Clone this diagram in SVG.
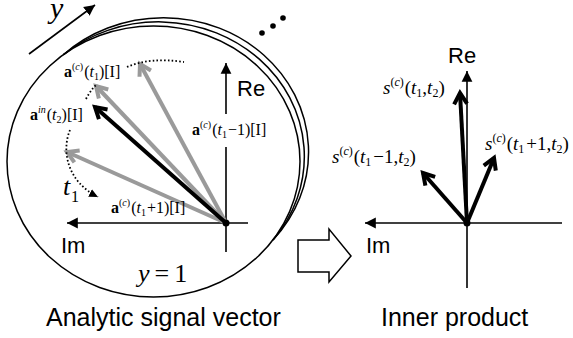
<svg xmlns="http://www.w3.org/2000/svg" width="573" height="338" viewBox="0 0 573 338">
<style>
.sans{font-family:"Liberation Sans",Arial,sans-serif;fill:#000}
.m{font-family:"Liberation Serif","Times New Roman",serif;fill:#000}
.it{font-style:italic}
.b{font-weight:bold}
.ln{fill:none;stroke:#000;stroke-width:1.5}
.ax{fill:none;stroke:#000;stroke-width:1.6}
.dot{fill:none;stroke:#000;stroke-width:1.8;stroke-dasharray:1.6 2.2}
.vg{fill:none;stroke:#9a9a9a;stroke-width:4}
.vb{fill:none;stroke:#000;stroke-width:4}
</style>
<defs>
<marker id="tri" markerUnits="userSpaceOnUse" markerWidth="12" markerHeight="12" viewBox="-9 -5 10 10" refX="0" refY="0" orient="auto"><path d="M-9,-4.5 L0,0 L-9,4.5 z" fill="#000"/></marker>
<marker id="triS" markerUnits="userSpaceOnUse" markerWidth="10" markerHeight="10" viewBox="-8 -4 9 8" refX="0" refY="0" orient="auto"><path d="M-8,-3.8 L0,0 L-8,3.8 z" fill="#000"/></marker>
<marker id="vG" markerUnits="userSpaceOnUse" markerWidth="24" markerHeight="24" viewBox="-16 -12 24 24" refX="0" refY="0" orient="auto"><path d="M-11,-6.5 L0,0 L-11,6.5" fill="none" stroke="#9a9a9a" stroke-width="4"/></marker>
<marker id="vB" markerUnits="userSpaceOnUse" markerWidth="24" markerHeight="24" viewBox="-16 -12 24 24" refX="0" refY="0" orient="auto"><path d="M-11,-6.5 L0,0 L-11,6.5" fill="none" stroke="#000" stroke-width="4"/></marker>
</defs>

<g id="layers">
<path class="ln" d="M63.4,54.7 A145.14,134.24 0 0 1 273,240"/>
<path class="ln" d="M63.4,54.7 A145.62,134.69 0 0 1 273,240"/>
<ellipse class="ln" cx="153.5" cy="161.5" rx="146.5" ry="135.5" fill="#fff"/>
<circle cx="262" cy="33" r="2.8"/>
<circle cx="273" cy="26" r="2.8"/>
<circle cx="283" cy="18" r="2.8"/>
</g>

<g id="y-axis-arrow">
<line class="ax" x1="29" y1="54" x2="95" y2="5" stroke-width="2" marker-end="url(#tri)"/>
<text class="m it" x="50" y="18" font-size="30">y</text>
</g>

<g id="left-axes">
<line class="ax" x1="226" y1="252" x2="226" y2="63" marker-end="url(#tri)"/>
<line class="ax" x1="248" y1="223" x2="67" y2="223" marker-end="url(#tri)"/>
<text class="sans" x="237" y="96" font-size="22">Re</text>
<text class="sans" x="61" y="253" font-size="22">Im</text>
</g>

<g id="connectors">
<line class="vg" x1="226" y1="223" x2="140" y2="64" marker-end="url(#vG)"/>
<line class="vg" x1="226" y1="223" x2="96" y2="86" marker-end="url(#vG)"/>
<line class="vg" x1="226" y1="223" x2="67" y2="152" marker-end="url(#vG)"/>
<line class="vb" x1="226" y1="223" x2="95" y2="107" marker-end="url(#vB)"/>
<path class="dot" d="M127,67 Q150,57 184,62"/>
<path class="dot" d="M86,99 Q90,91 96,85"/>
<path class="dot" d="M70,130 C61,152 68,182 98,197" marker-end="url(#triS)"/>
<line class="vb" x1="467" y1="223" x2="460" y2="93" marker-end="url(#vB)"/>
<line class="vb" x1="467" y1="223" x2="423" y2="173" marker-end="url(#vB)"/>
<line class="vb" x1="467" y1="223" x2="494" y2="158" marker-end="url(#vB)"/>
</g>
<circle cx="226" cy="223" r="3.5"/>

<g id="label-a-t1">
<text class="m" x="64" y="77" font-size="16"><tspan class="b">a</tspan><tspan font-size="10" dy="-7">(</tspan><tspan font-size="10" class="it">c</tspan><tspan font-size="10">)</tspan><tspan dy="7" dx="1">(</tspan><tspan class="it">t</tspan><tspan font-size="10" dy="3">1</tspan><tspan dy="-3">)[I]</tspan></text>
</g>
<g id="label-ain">
<text class="m" x="30" y="120" font-size="16"><tspan class="b">a</tspan><tspan font-size="10" dy="-7" class="it">in</tspan><tspan dy="7" dx="1">(</tspan><tspan class="it">t</tspan><tspan font-size="10" dy="3">2</tspan><tspan dy="-3">)[I]</tspan></text>
</g>
<g id="label-a-t1m1">
<rect x="190" y="114" width="80" height="33" fill="#fff"/>
<text class="m" x="192" y="135" font-size="16"><tspan class="b">a</tspan><tspan font-size="10" dy="-7">(</tspan><tspan font-size="10" class="it">c</tspan><tspan font-size="10">)</tspan><tspan dy="7" dx="1">(</tspan><tspan class="it">t</tspan><tspan font-size="10" dy="3">1</tspan><tspan dy="-3" dx="1">−1)[I]</tspan></text>
</g>
<g id="label-a-t1p1">
<text class="m" x="111" y="213" font-size="16"><tspan class="b">a</tspan><tspan font-size="10" dy="-7">(</tspan><tspan font-size="10" class="it">c</tspan><tspan font-size="10">)</tspan><tspan dy="7" dx="1">(</tspan><tspan class="it">t</tspan><tspan font-size="10" dy="3">1</tspan><tspan dy="-3" dx="1">+1)[I]</tspan></text>
</g>
<g id="label-t1">
<text class="m it" x="63" y="195" font-size="26">t</text>
<text class="m" x="71" y="202" font-size="16">1</text>
</g>
<g id="label-y1">
<text class="m" x="138" y="282" font-size="26"><tspan class="it">y</tspan><tspan dx="5">=</tspan><tspan dx="5">1</tspan></text>
</g>

<g id="block-arrow">
<polygon points="298,240 329,240 329,229 351,256 329,282 329,272 298,272" fill="#fff" stroke="#000" stroke-width="1.5"/>
</g>

<g id="right-axes">
<line class="ax" x1="467" y1="288" x2="467" y2="71" marker-end="url(#tri)"/>
<line class="ax" x1="562" y1="223" x2="365" y2="223" marker-end="url(#tri)"/>
<text class="sans" x="448" y="63" font-size="22">Re</text>
<text class="sans" x="366" y="253" font-size="22">Im</text>
</g>
<circle cx="467" cy="223" r="3.5"/>

<g id="label-s">
<text class="m" x="383" y="94" font-size="19"><tspan class="it">s</tspan><tspan font-size="12" dy="-8">(</tspan><tspan font-size="12" class="it">c</tspan><tspan font-size="12">)</tspan><tspan dy="8" dx="1">(</tspan><tspan class="it">t</tspan><tspan font-size="12" dy="3">1</tspan><tspan dy="-3">,</tspan><tspan class="it">t</tspan><tspan font-size="12" dy="3">2</tspan><tspan dy="-3">)</tspan></text>
</g>
<g id="label-s-m1">
<text class="m" x="332" y="163" font-size="19"><tspan class="it">s</tspan><tspan font-size="12" dy="-8">(</tspan><tspan font-size="12" class="it">c</tspan><tspan font-size="12">)</tspan><tspan dy="8" dx="1">(</tspan><tspan class="it">t</tspan><tspan font-size="12" dy="3">1</tspan><tspan dy="-3" dx="2">−1,</tspan><tspan class="it">t</tspan><tspan font-size="12" dy="3">2</tspan><tspan dy="-3">)</tspan></text>
</g>
<g id="label-s-p1">
<text class="m" x="485" y="150" font-size="19"><tspan class="it">s</tspan><tspan font-size="12" dy="-8">(</tspan><tspan font-size="12" class="it">c</tspan><tspan font-size="12">)</tspan><tspan dy="8" dx="1">(</tspan><tspan class="it">t</tspan><tspan font-size="12" dy="3">1</tspan><tspan dy="-3" dx="2">+1,</tspan><tspan class="it">t</tspan><tspan font-size="12" dy="3">2</tspan><tspan dy="-3">)</tspan></text>
</g>

<g id="captions">
<text class="sans" x="46" y="326" font-size="25">Analytic signal vector</text>
<text class="sans" x="381" y="326" font-size="25">Inner product</text>
</g>
</svg>
